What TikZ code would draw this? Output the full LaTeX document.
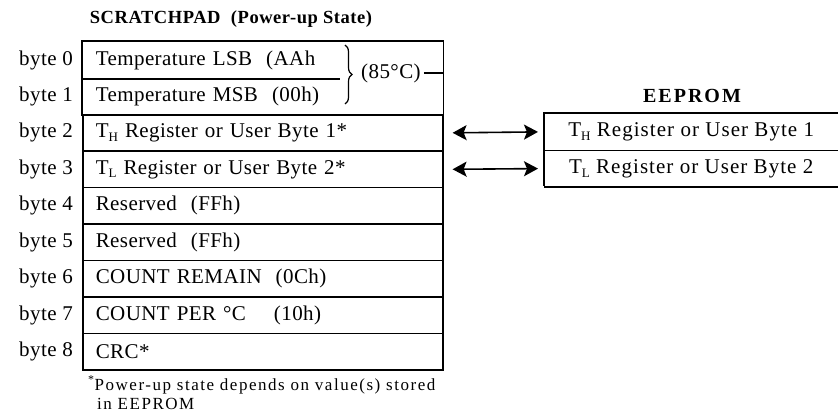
\documentclass[tikz,border=0pt]{standalone}
\usepackage{fontspec}
\setmainfont{Liberation Serif}
\usetikzlibrary{arrows.meta,decorations.pathreplacing}
\newcommand\lowsub[1]{\raisebox{-0.18em}{\fontsize{13}{13}\selectfont #1}}
\tikzset{
  lw/.style={line width=1.6pt},
  body/.style={font=\fontsize{21}{23}\selectfont\addfontfeature{LetterSpace=2}},
  cell/.style={body, lw, draw, anchor=north west, minimum width=360pt, minimum height=36.45pt,
    text width=334pt, inner xsep=13pt, inner ysep=0pt, align=left},
  cellopen/.style={cell, draw=none},
  bytelbl/.style={body, anchor=east, inner sep=0pt},
  ecell/.style={body, font=\fontsize{21}{23}\selectfont\addfontfeature{LetterSpace=5}, anchor=north west, minimum width=294pt, minimum height=36.7pt, inner sep=0pt, align=center},
  ttl/.style={font=\fontsize{18.5}{20}\selectfont\bfseries\addfontfeature{LetterSpace=3}, inner sep=0pt},
  ettl/.style={font=\fontsize{20}{22}\selectfont\bfseries\addfontfeature{LetterSpace=10}, inner sep=0pt},
  foot/.style={font=\fontsize{17}{19}\selectfont\addfontfeature{LetterSpace=9}, inner sep=0pt, anchor=west},
  dblarrow/.style={lw, {Stealth[length=14pt,width=15pt,inset=3pt]}-{Stealth[length=14pt,width=15pt,inset=3pt]}}
}
\begin{document}
\begin{tikzpicture}[x=1pt,y=-1pt]
\useasboundingbox (0,0) rectangle (838,417);
% title
\node[ttl] (title) at (231,19) {SCRATCHPAD\ \ (Power-up State)};
% rows
\node[cellopen] (r0) at (82,41) {Temperature LSB\ \ (AAh};
\node[cellopen] (r1) at (82,77.45) {Temperature MSB\ \ (00h)};
\node[cell] (r2) at (82,113.9) {T\lowsub{H} Register or User Byte 1*};
\node[cell] (r3) at (82,150.35) {T\lowsub{L} Register or User Byte 2*};
\node[cell] (r4) at (82,186.8) {Reserved\ \ (FFh)};
\node[cell] (r5) at (82,223.25) {Reserved\ \ (FFh)};
\node[cell] (r6) at (82,259.7) {COUNT REMAIN\ \ (0Ch)};
\node[cell] (r7) at (82,296.15) {COUNT PER °C\ \ \ \ (10h)};
\node[cell] (r8) at (82,332.6) {CRC*};
\draw[lw] (r0.north west) -- (r0.north east) -- (r1.south east) -- (r1.south west) -- cycle;
\draw[lw] (r0.south west) -- ([xshift=258pt]r0.south west);
% byte labels
\foreach \i in {0,...,8} {
  \node[bytelbl] (b\i) at ([xshift=-9pt]r\i.west) {byte \i};
}
% brace and 85C
\draw[line width=1.2pt, decorate, decoration={brace, amplitude=7pt}] (345,45) -- (345,104);
\node[body, anchor=west, inner sep=0pt] (t85) at (361,73) {(85°C)};
\draw[line width=1.2pt] ([xshift=3pt]t85.east) -- (r0.east |- t85.east);
% EEPROM
\node[ettl] (etitle) at (692,96) {EEPROM};
\node[ecell] (e1) at (544,113.3) {T\lowsub{H} Register or User Byte 1};
\node[ecell] (e2) at (544,150) {T\lowsub{L} Register or User Byte 2};
\draw[lw] (e1.north east) -- (e1.north west) -- ([yshift=1pt]e2.south west);
\draw[lw] (e1.south west) -- (e1.south east);
\draw[lw] (e2.south west) -- (e2.south east);
% arrows
\draw[dblarrow, shorten <=9pt, shorten >=6pt] (r2.east) -- (e1.west);
\draw[dblarrow, shorten <=9pt, shorten >=6pt] (r3.east) -- (e2.west);
% footnote
\node[foot] (fn1) at (88,385) {\textsuperscript{*}Power-up state depends on value(s) stored};
\node[foot] (fn2) at (97,404) {in EEPROM};
\end{tikzpicture}
\end{document}
